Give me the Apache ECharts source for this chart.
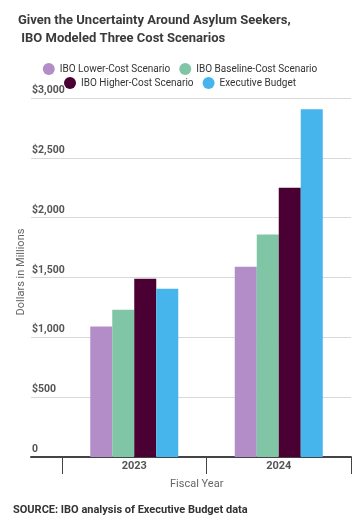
<!DOCTYPE html>
<html><head><meta charset="utf-8">
<script src="https://cdn.jsdelivr.net/npm/echarts@6/dist/echarts.min.js"></script>
<style>html,body{margin:0;padding:0;background:#fff}#c{width:360px;height:525px}</style>
</head><body><div id="c"></div>
<script>
const categories = ['2023', '2024'];
const seriesNames = ['IBO Lower-Cost Scenario', 'IBO Baseline-Cost Scenario', 'IBO Higher-Cost Scenario', 'Executive Budget'];
const lowerCost = [1090, 1590];
const baselineCost = [1230, 1860];
const higherCost = [1490, 2250];
const executiveBudget = [1405, 2905];
const yTicks = [0, 500, 1000, 1500, 2000, 2500, 3000];
const colors = ['#b28dc8', '#80c6a6', '#4a0033', '#45b5eb'];

const chart = echarts.init(document.getElementById('c'));
const font = 'Roboto';
const values = [lowerCost, baselineCost, higherCost, executiveBudget];
const legendStyle = { fontSize: 10, color: '#333', fontFamily: font };
chart.setOption({
  animation: false,
  textStyle: { fontFamily: font },
  title: {
    text: 'Given the Uncertainty Around Asylum Seekers,\n IBO Modeled Three Cost Scenarios',
    left: 13, top: 7,
    textStyle: { fontSize: 13, fontWeight: 'bold', color: '#3a3a3a', lineHeight: 18, fontFamily: font }
  },
  legend: [
    { data: seriesNames.slice(0, 2), top: 58, left: 'center', icon: 'circle', itemWidth: 12, itemHeight: 12, itemGap: 9, textStyle: legendStyle },
    { data: seriesNames.slice(2, 4), top: 72, left: 'center', icon: 'circle', itemWidth: 12, itemHeight: 12, itemGap: 9, textStyle: legendStyle }
  ],
  grid: [
    { left: 31, right: 9, top: 98, bottom: 68 },
    { left: 62, right: 9, top: 98, bottom: 68 }
  ],
  xAxis: [
    { type: 'value', gridIndex: 0, min: 0, max: 1, axisLine: { show: true, lineStyle: { color: '#444', width: 2 } }, axisTick: { show: false }, axisLabel: { show: false }, splitLine: { show: false } },
    { type: 'category', gridIndex: 1, data: categories, axisLine: { show: false }, axisTick: { show: true, length: 17, lineStyle: { color: '#444', width: 1 } }, axisLabel: { color: '#555', fontWeight: 'bold', fontSize: 11, margin: 4 } }
  ],
  yAxis: [
    { type: 'value', gridIndex: 0, min: 0, max: 3000, interval: 500,
      axisLine: { show: false }, axisTick: { show: false },
      splitLine: { lineStyle: { color: '#d9d9d9', width: 1 } },
      axisLabel: { inside: true, margin: 1, verticalAlign: 'bottom', padding: [0, 0, 2, 0], color: '#555', fontWeight: 'bold', fontSize: 10.5,
        formatter: v => yTicks.includes(v) ? (v === 0 ? '0' : '$' + v.toLocaleString('en-US')) : '' } },
    { type: 'value', gridIndex: 1, min: 0, max: 3000, interval: 500, show: false, splitLine: { show: false } }
  ],
  series: seriesNames.map((n, i) => ({
    name: n, type: 'bar', xAxisIndex: 1, yAxisIndex: 1, data: values[i], barWidth: 22, barGap: '0%',
    itemStyle: { color: colors[i] }
  })),
  graphic: [
    { type: 'text', x: 21, y: 272, rotation: Math.PI / 2, style: { text: 'Dollars in Millions', fill: '#666', font: '11px Roboto', align: 'center', verticalAlign: 'middle' } },
    { type: 'text', left: 170, top: 479, style: { text: 'Fiscal Year', fill: '#666', font: '11px Roboto' } },
    { type: 'text', left: 13, top: 505, style: { text: 'SOURCE: IBO analysis of Executive Budget data', fill: '#333', font: 'bold 11px Roboto' } }
  ]
});
</script></body></html>
